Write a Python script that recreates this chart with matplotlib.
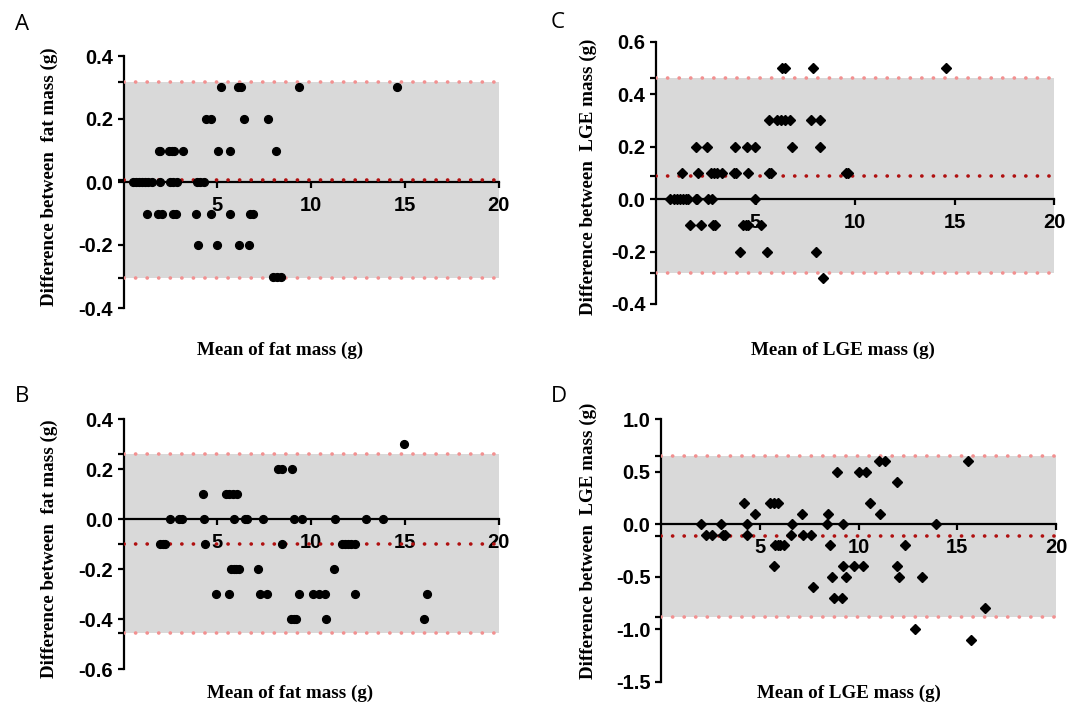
import matplotlib
matplotlib.use("Agg")
import matplotlib.pyplot as plt

plt.rcParams["axes.unicode_minus"] = False

# ---- data: (mean, difference) pairs per panel ----
A_X = [5.18, 6.1, 6.29, 9.38, 14.56,
       4.41, 4.67, 6.43, 7.72,
       1.87, 1.97, 2.45, 2.58, 2.7, 3.16, 5.05, 5.66, 8.15,
       0.5, 0.68, 0.85, 1.0, 1.15, 1.3, 1.5, 1.96, 2.47, 2.65, 2.83, 3.9, 4.08, 4.28,
       1.27, 1.86, 2.04, 2.66, 2.78, 3.87, 4.65, 5.68, 6.75, 6.89,
       3.99, 5.0, 6.18, 6.71,
       7.96, 8.17, 8.38]
A_Y = [0.3, 0.3, 0.3, 0.3, 0.3,
       0.2, 0.2, 0.2, 0.2,
       0.1, 0.1, 0.1, 0.1, 0.1, 0.1, 0.1, 0.1, 0.1,
       0.0, 0.0, 0.0, 0.0, 0.0, 0.0, 0.0, 0.0, 0.0, 0.0, 0.0, 0.0, 0.0, 0.0,
       -0.1, -0.1, -0.1, -0.1, -0.1, -0.1, -0.1, -0.1, -0.1, -0.1,
       -0.2, -0.2, -0.2, -0.2,
       -0.3, -0.3, -0.3]

B_X = [14.97,
       8.22, 8.44, 8.99,
       4.26, 5.47, 5.65, 5.85, 6.05,
       2.5, 2.96, 3.11, 4.3, 5.9, 6.47, 6.6, 7.42, 9.07, 9.5, 11.28, 12.91, 13.86,
       1.95, 2.09, 2.22, 4.35, 8.45, 11.63, 11.79, 11.95, 12.13, 12.32,
       5.75, 5.88, 6.01, 6.14, 7.16, 11.2,
       4.95, 5.64, 7.29, 7.65, 9.35, 10.13, 10.43, 10.76, 12.36, 16.18,
       8.93, 9.07, 9.2, 10.78, 16.03]
B_Y = [0.3,
       0.2, 0.2, 0.2,
       0.1, 0.1, 0.1, 0.1, 0.1,
       0.0, 0.0, 0.0, 0.0, 0.0, 0.0, 0.0, 0.0, 0.0, 0.0, 0.0, 0.0, 0.0,
       -0.1, -0.1, -0.1, -0.1, -0.1, -0.1, -0.1, -0.1, -0.1, -0.1,
       -0.2, -0.2, -0.2, -0.2, -0.2, -0.2,
       -0.3, -0.3, -0.3, -0.3, -0.3, -0.3, -0.3, -0.3, -0.3, -0.3,
       -0.4, -0.4, -0.4, -0.4, -0.4]

C_X = [6.32, 6.5, 7.88, 14.55,
       5.7, 6.1, 6.3, 6.5, 6.75, 7.77, 8.22,
       2.01, 2.58, 3.97, 4.56, 4.97, 6.82, 8.24,
       1.33, 2.13, 2.78, 2.9, 3.05, 3.33, 3.9, 4.0, 4.6, 5.7, 5.76, 9.55, 9.65,
       0.7, 0.88, 1.05, 1.2, 1.35, 1.5, 1.62, 2.01, 2.08, 2.63, 2.8, 4.97,
       1.73, 2.25, 2.86, 2.95, 4.38, 4.5, 4.64, 5.27,
       4.21, 5.59, 8.05,
       8.4]
C_Y = [0.5, 0.5, 0.5, 0.5,
       0.3, 0.3, 0.3, 0.3, 0.3, 0.3, 0.3,
       0.2, 0.2, 0.2, 0.2, 0.2, 0.2, 0.2,
       0.1, 0.1, 0.1, 0.1, 0.1, 0.1, 0.1, 0.1, 0.1, 0.1, 0.1, 0.1, 0.1,
       0.0, 0.0, 0.0, 0.0, 0.0, 0.0, 0.0, 0.0, 0.0, 0.0, 0.0, 0.0,
       -0.1, -0.1, -0.1, -0.1, -0.1, -0.1, -0.1, -0.1,
       -0.2, -0.2, -0.2,
       -0.3]

D_X = [11.06, 11.36, 15.54,
       8.91, 10.04, 10.4,
       11.96,
       4.22, 5.52, 5.72, 5.93, 10.57,
       4.77, 7.15, 8.48, 11.09,
       2.04, 3.05, 4.34, 6.63, 8.43, 9.21, 13.94,
       2.27, 2.6, 3.12, 3.24, 4.37, 6.6, 7.18, 7.6,
       5.75, 5.9, 6.05, 6.22, 8.54, 12.37,
       5.73, 9.23, 9.77, 10.25, 11.94,
       8.66, 9.38, 12.06, 13.19,
       7.72,
       8.77, 9.16,
       16.42,
       12.84,
       15.69]
D_Y = [0.6, 0.6, 0.6,
       0.5, 0.5, 0.5,
       0.4,
       0.2, 0.2, 0.2, 0.2, 0.2,
       0.1, 0.1, 0.1, 0.1,
       0.0, 0.0, 0.0, 0.0, 0.0, 0.0, 0.0,
       -0.1, -0.1, -0.1, -0.1, -0.1, -0.1, -0.1, -0.1,
       -0.2, -0.2, -0.2, -0.2, -0.2, -0.2,
       -0.4, -0.4, -0.4, -0.4, -0.4,
       -0.5, -0.5, -0.5, -0.5,
       -0.6,
       -0.7, -0.7,
       -0.8,
       -1.0,
       -1.1]

# limits of agreement: (lower, bias, upper)
A_LOA = (-0.306, 0.006, 0.318)
B_LOA = (-0.453, -0.097, 0.26)
C_LOA = (-0.283, 0.089, 0.46)
D_LOA = (-0.88, -0.115, 0.65)

A_YTICKS = [0.4, 0.2, 0.0, -0.2, -0.4]
B_YTICKS = [0.4, 0.2, 0.0, -0.2, -0.4, -0.6]
C_YTICKS = [0.6, 0.4, 0.2, 0.0, -0.2, -0.4]
D_YTICKS = [1.0, 0.5, 0.0, -0.5, -1.0, -1.5]
X_TICKS = [5, 10, 15, 20]

FAT_YLABEL = "Difference between  fat mass (g)"
FAT_XLABEL = "Mean of fat mass (g)"
LGE_YLABEL = "Difference between  LGE mass (g)"
LGE_XLABEL = "Mean of LGE mass (g)"

W, H = 1077, 702
BAND = "#d9d9d9"
LIMIT_C = "#f29090"
BIAS_C = "#b01010"
TICK_FONT = dict(family="Liberation Sans", weight="bold", size=14.5)
LABEL_FONT = dict(family="Liberation Serif", weight="bold", size=13.7)


def px_axes(l, t, r, b):
    return fig.add_axes([l / W, 1 - b / H, (r - l) / W, (b - t) / H])


def panel(ax, xs, ys, loa, yticks, marker, ms):
    lo, bias, hi = loa
    ax.fill_between([0, 20], lo, hi, color=BAND, lw=0, zorder=0)
    for yv, c in [(hi, LIMIT_C), (lo, LIMIT_C), (bias, BIAS_C)]:
        ax.plot([0, 20], [yv, yv], color=c, lw=2.6, ls=(0, (0.05, 3.15)),
                dash_capstyle="round", zorder=3)
    ax.plot(xs, ys, ls="none", marker=marker, ms=ms, color="black",
            mec="black", zorder=4, clip_on=False)
    ax.set_xlim(0, 20)
    ax.set_ylim(min(yticks), max(yticks))
    ax.set_facecolor("none")
    for s in ("top", "right"):
        ax.spines[s].set_visible(False)
    ax.spines["bottom"].set_position(("data", 0))
    ax.spines["bottom"].set_bounds(0, 20)
    for s in ("left", "bottom"):
        ax.spines[s].set_linewidth(1.6)
        ax.spines[s].set_zorder(2.5)
    ax.set_xticks(X_TICKS)
    ax.set_xticklabels([str(v) for v in X_TICKS], **TICK_FONT)
    ax.set_yticks(yticks)
    ax.set_yticklabels([f"{v:.1f}" for v in yticks], **TICK_FONT)
    ax.set_yticks([lo, bias, hi], minor=True)
    ax.tick_params(axis="x", direction="out", length=4.5, width=1.6, pad=5.5)
    ax.tick_params(axis="y", which="both", direction="out", length=4.5,
                   width=1.6, pad=3)


fig = plt.figure(figsize=(W / 100, H / 100), dpi=100)

ax = px_axes(123.5, 56, 498.5, 308)
panel(ax, A_X, A_Y, A_LOA, A_YTICKS, "o", 5.6)
ax = px_axes(123.5, 419.3, 498.5, 669.3)
panel(ax, B_X, B_Y, B_LOA, B_YTICKS, "o", 5.6)
ax = px_axes(656, 41.7, 1054, 304)
panel(ax, C_X, C_Y, C_LOA, C_YTICKS, "D", 4.7)
ax = px_axes(661, 419.3, 1056, 681.8)
panel(ax, D_X, D_Y, D_LOA, D_YTICKS, "D", 4.7)

# axis titles and panel letters, placed in figure pixels
for x, y, s in [(49, 177, FAT_YLABEL), (49, 549, FAT_YLABEL),
                (588, 177, LGE_YLABEL), (588, 541, LGE_YLABEL)]:
    fig.text(x / W, 1 - y / H, s, rotation=90, ha="center", va="center", **LABEL_FONT)
for x, y, s in [(280, 350, FAT_XLABEL), (290, 693, FAT_XLABEL),
                (843, 350, LGE_XLABEL), (849, 693, LGE_XLABEL)]:
    fig.text(x / W, 1 - y / H, s, ha="center", va="center", **LABEL_FONT)
for x, y, s in [(22, 25, "A"), (22, 396, "B"), (558, 22, "C"), (559, 396, "D")]:
    fig.text(x / W, 1 - y / H, s, ha="center", va="center",
             family="Open Sans", size=16)

fig.savefig("out.png", dpi=100)
